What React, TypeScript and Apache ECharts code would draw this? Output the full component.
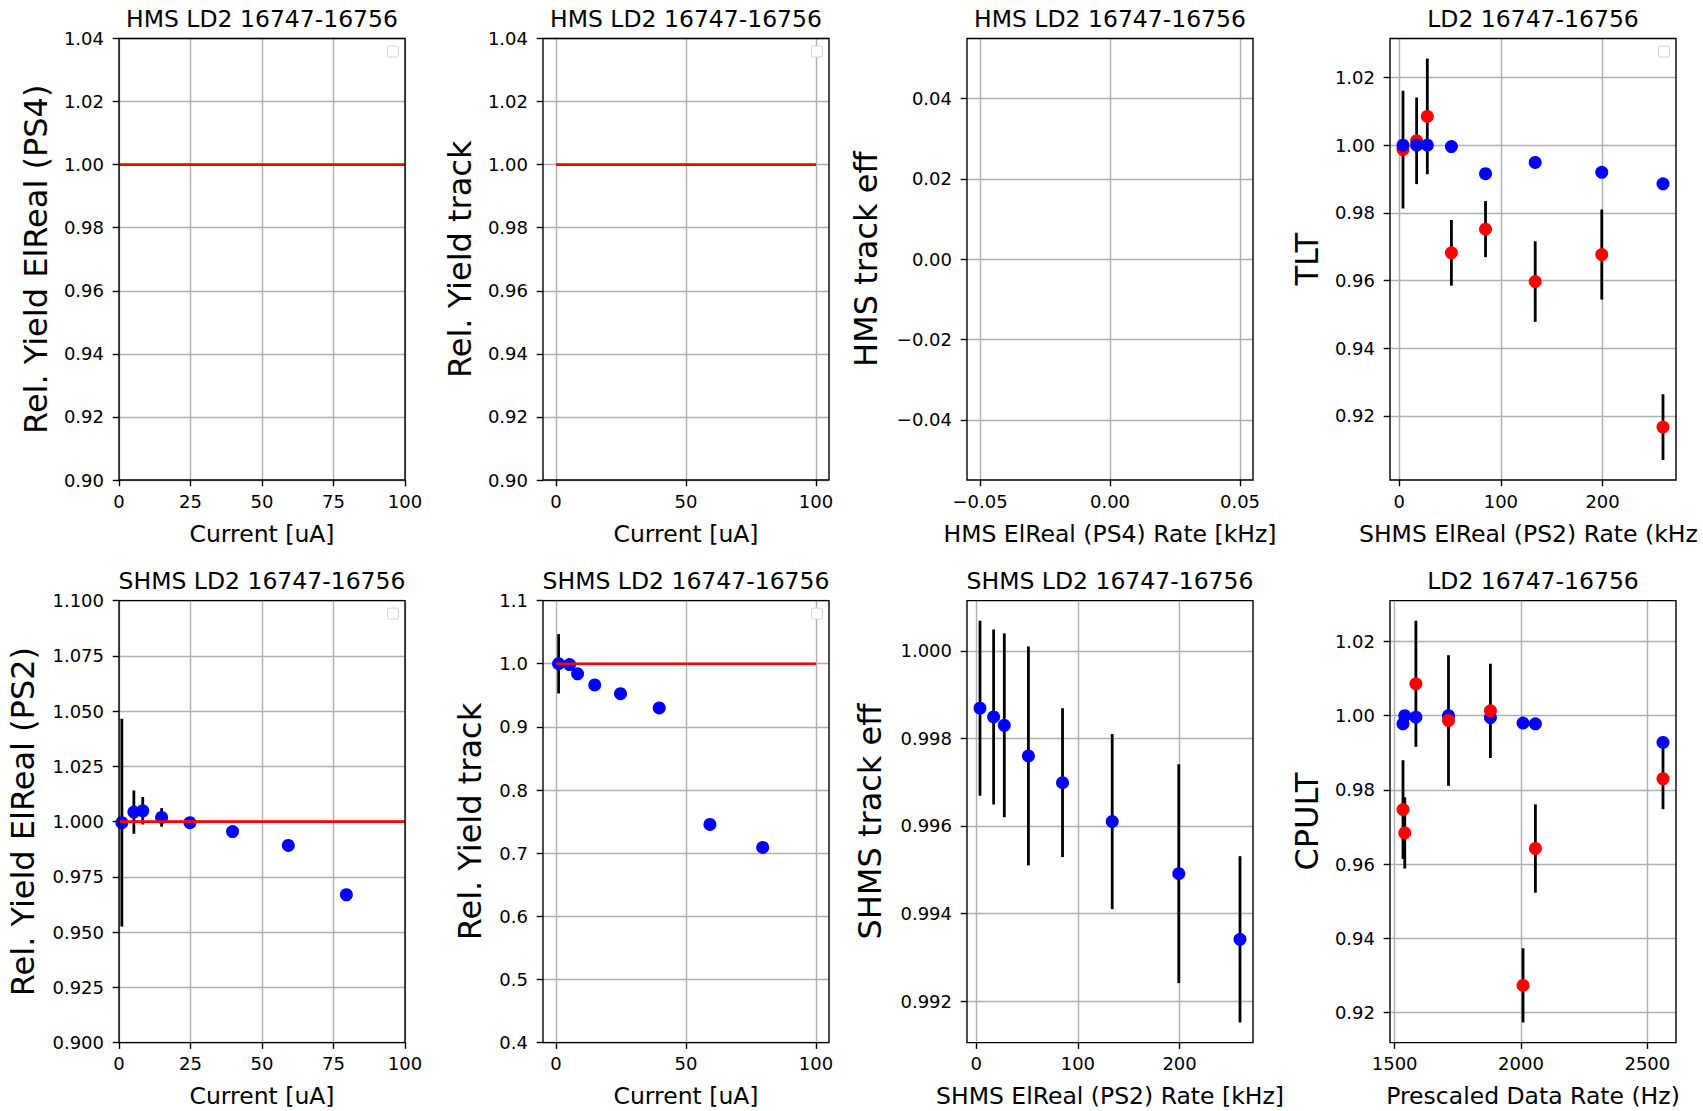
import React, { useEffect, useRef } from "react";
import * as echarts from "echarts";

// ---------------- DATA ----------------
// Beam current (uA) for SHMS yield panels
const currentUA = [1.0, 5.2, 8.3, 14.9, 24.8, 39.7, 59.2, 79.5];
const shmsRelYieldElReal = [0.9995, 1.0043, 1.0049, 1.0019, 0.9995, 0.9955, 0.9892, 0.9669];
const shmsRelYieldElRealErr = [0.047, 0.0098, 0.0062, 0.0042, 0.002, 0.0015, 0.0012, 0.001];
const shmsRelYieldTrack = [1.0, 0.9987, 0.984, 0.9665, 0.9525, 0.93, 0.7455, 0.709];
const shmsRelYieldTrackErr = [0.047, 0.0098, 0.0062, 0.0042, 0.002, 0.0015, 0.0012, 0.001];
// Reference line at 1
const refLineX = [0, 100];
const refLineY = [1, 1];

// SHMS ElReal (PS2) rate (kHz)
const shmsRateKHz = [3.75, 17.15, 27.65, 51.35, 84.9, 133.75, 199.2, 259.4];
const tltBlue = [1.0, 1.0, 1.0, 0.9996, 0.9916, 0.9949, 0.992, 0.9886];
const tltRed = [0.9987, 1.0013, 1.0085, 0.9682, 0.9752, 0.9597, 0.9677, 0.9167];
const tltRedErr = [0.0174, 0.0128, 0.0171, 0.0097, 0.0083, 0.0119, 0.0133, 0.0097];
const shmsTrackEff = [0.99869, 0.99849, 0.9983, 0.9976, 0.99699, 0.9961, 0.99491, 0.99341];
const shmsTrackEffErr = [0.002, 0.002, 0.0021, 0.0025, 0.0017, 0.002, 0.0025, 0.0019];

// Prescaled data rate (Hz)
const prescaledRateHz = [1533, 1540, 1584, 1713, 1879, 2008, 2057, 2562];
const cpultBlue = [0.9978, 1.0, 0.9996, 1.0, 0.9995, 0.998, 0.9978, 0.9928];
const cpultRed = [0.9747, 0.9684, 1.0086, 0.9987, 1.0013, 0.9273, 0.9642, 0.983];
const cpultRedErr = [0.0133, 0.0096, 0.017, 0.0176, 0.0127, 0.01, 0.0119, 0.0082];

// Tick values
const ticksCurrent25 = [0, 25, 50, 75, 100];
const ticksCurrent50 = [0, 50, 100];
const ticksYieldHMS = [0.9, 0.92, 0.94, 0.96, 0.98, 1.0, 1.02, 1.04];
const ticksEmptyX = [-0.05, 0, 0.05];
const ticksEmptyY = [-0.04, -0.02, 0, 0.02, 0.04];
const ticksRate = [0, 100, 200];
const ticksTLT = [0.92, 0.94, 0.96, 0.98, 1.0, 1.02];
const ticksYieldElRealSHMS = [0.9, 0.925, 0.95, 0.975, 1.0, 1.025, 1.05, 1.075, 1.1];
const ticksYieldTrackSHMS = [0.4, 0.5, 0.6, 0.7, 0.8, 0.9, 1.0, 1.1];
const ticksTrackEff = [0.992, 0.994, 0.996, 0.998, 1.0];
const ticksPrescaled = [1500, 2000, 2500];
const ticksCPULT = [0.92, 0.94, 0.96, 0.98, 1.0, 1.02];

// ---------------- LAYOUT / STYLE ----------------
const FONT = "'DejaVu Sans', 'Liberation Sans', sans-serif";
const COLS = [119, 543, 967, 1390];
const W = 286;
const ROWS = [
  { top: 38.5, h: 441.5, titleTop: 6.5 },
  { top: 600.6, h: 442, titleTop: 569 },
];
const BLUE = "#0000ff";
const RED = "#ff0000";

const fmt = (dec: number) => (v: number) => Number(v).toFixed(dec).replace("-", "\u2212");
const padded = (lo: number, hi: number) => {
  const r = hi - lo;
  return [lo - 0.05 * r, hi + 0.05 * r];
};
const minOf = (a: number[]) => Math.min(...a);
const maxOf = (a: number[]) => Math.max(...a);

const p3x = padded(minOf(shmsRateKHz), maxOf(shmsRateKHz));
const p3y = padded(
  Math.min(minOf(tltRed.map((v, i) => v - tltRedErr[i])), minOf(tltBlue)),
  Math.max(maxOf(tltRed.map((v, i) => v + tltRedErr[i])), maxOf(tltBlue))
);
const p6y = padded(
  minOf(shmsTrackEff.map((v, i) => v - shmsTrackEffErr[i])),
  maxOf(shmsTrackEff.map((v, i) => v + shmsTrackEffErr[i]))
);
const p7x = padded(minOf(prescaledRateHz), maxOf(prescaledRateHz));
const p7y = padded(
  Math.min(minOf(cpultRed.map((v, i) => v - cpultRedErr[i])), minOf(cpultBlue)),
  Math.max(maxOf(cpultRed.map((v, i) => v + cpultRedErr[i])), maxOf(cpultBlue))
);

type Panel = {
  col: number;
  row: number;
  title: string;
  xName: string;
  xNamePadRight: number;
  yName: string;
  x: number[];
  y: number[];
  xTicks: number[];
  yTicks: number[];
  xDec: number;
  yDec: number;
  yGap: number;
  legendBox: boolean;
};

const panels: Panel[] = [
  { col: 0, row: 0, title: "HMS LD2 16747-16756", xName: "Current [uA]", xNamePadRight: 0, yName: "Rel. Yield ElReal (PS4)", x: [0, 100], y: [0.9, 1.04], xTicks: ticksCurrent25, yTicks: ticksYieldHMS, xDec: 0, yDec: 2, yGap: 67.5, legendBox: true },
  { col: 1, row: 0, title: "HMS LD2 16747-16756", xName: "Current [uA]", xNamePadRight: 0, yName: "Rel. Yield track", x: [-5, 105], y: [0.9, 1.04], xTicks: ticksCurrent50, yTicks: ticksYieldHMS, xDec: 0, yDec: 2, yGap: 67.5, legendBox: true },
  { col: 2, row: 0, title: "HMS LD2 16747-16756", xName: "HMS ElReal (PS4) Rate [kHz]", xNamePadRight: 0, yName: "HMS track eff", x: [-0.055, 0.055], y: [-0.055, 0.055], xTicks: ticksEmptyX, yTicks: ticksEmptyY, xDec: 2, yDec: 2, yGap: 85, legendBox: false },
  // the reference figure is cropped at its right edge, so this label ends at "(kHz"
  { col: 3, row: 0, title: "LD2 16747-16756", xName: "SHMS ElReal (PS2) Rate (kHz", xNamePadRight: 9.2, yName: "TLT", x: p3x, y: p3y, xTicks: ticksRate, yTicks: ticksTLT, xDec: 0, yDec: 2, yGap: 67.5, legendBox: true },
  { col: 0, row: 1, title: "SHMS LD2 16747-16756", xName: "Current [uA]", xNamePadRight: 0, yName: "Rel. Yield ElReal (PS2)", x: [0, 100], y: [0.9, 1.1], xTicks: ticksCurrent25, yTicks: ticksYieldElRealSHMS, xDec: 0, yDec: 3, yGap: 80.5, legendBox: true },
  { col: 1, row: 1, title: "SHMS LD2 16747-16756", xName: "Current [uA]", xNamePadRight: 0, yName: "Rel. Yield track", x: [-5, 105], y: [0.4, 1.1], xTicks: ticksCurrent50, yTicks: ticksYieldTrackSHMS, xDec: 0, yDec: 1, yGap: 57.5, legendBox: true },
  { col: 2, row: 1, title: "SHMS LD2 16747-16756", xName: "SHMS ElReal (PS2) Rate [kHz]", xNamePadRight: 0, yName: "SHMS track eff", x: p3x, y: p6y, xTicks: ticksRate, yTicks: ticksTrackEff, xDec: 0, yDec: 3, yGap: 81.5, legendBox: false },
  { col: 3, row: 1, title: "LD2 16747-16756", xName: "Prescaled Data Rate (Hz)", xNamePadRight: 0, yName: "CPULT", x: p7x, y: p7y, xTicks: ticksPrescaled, yTicks: ticksCPULT, xDec: 0, yDec: 2, yGap: 67.5, legendBox: false },
];

const refLine = (gi: number) => ({
  type: "line",
  xAxisIndex: gi,
  yAxisIndex: gi,
  data: refLineX.map((x, i) => [x, refLineY[i]]),
  symbol: "none",
  silent: true,
  lineStyle: { color: RED, width: 2.7 },
});

const scatter = (gi: number, xs: number[], ys: number[], color: string) => ({
  type: "scatter",
  xAxisIndex: gi,
  yAxisIndex: gi,
  data: xs.map((x, i) => [x, ys[i]]),
  symbol: "circle",
  symbolSize: 13,
  silent: true,
  itemStyle: { color, opacity: 1, borderWidth: 0 },
});

const errorBars = (gi: number, xs: number[], ys: number[], errs: number[]) => ({
  type: "custom",
  xAxisIndex: gi,
  yAxisIndex: gi,
  silent: true,
  data: xs.map((x, i) => [x, ys[i] - errs[i], ys[i] + errs[i]]),
  encode: { x: 0, y: [1, 2] },
  renderItem: (_params: any, api: any) => {
    const lo = api.coord([api.value(0), api.value(1)]);
    const hi = api.coord([api.value(0), api.value(2)]);
    return {
      type: "line",
      shape: { x1: lo[0], y1: lo[1], x2: hi[0], y2: hi[1] },
      style: { stroke: "#000", lineWidth: 2.8 },
    };
  },
});

function buildOption() {
  const grid = panels.map((p) => ({
    left: COLS[p.col],
    top: ROWS[p.row].top,
    width: W,
    height: ROWS[p.row].h,
    show: false,
    containLabel: false,
    outerBoundsMode: "none",
  }));

  const tickStyle = { show: true, inside: false, length: 6.3, lineStyle: { color: "#000", width: 1.4 } };
  const splitStyle = { show: true, lineStyle: { color: "#b0b0b0", width: 1.4 } };

  const xAxis = panels.map((p, i) => ({
    type: "value",
    gridIndex: i,
    min: p.x[0],
    max: p.x[1],
    name: p.xName,
    nameLocation: "middle",
    nameGap: 41.5,
    nameMoveOverlap: false,
    nameTextStyle: {
      fontSize: 23.5,
      color: "#000",
      fontFamily: FONT,
      padding: [0, p.xNamePadRight, 0, 0],
    },
    axisLine: { show: false, onZero: false },
    axisTick: { ...tickStyle, customValues: p.xTicks },
    axisLabel: {
      customValues: p.xTicks,
      formatter: fmt(p.xDec),
      fontSize: 18,
      color: "#000",
      fontFamily: FONT,
      margin: 12,
      hideOverlap: false,
    },
    splitLine: splitStyle,
  }));

  const yAxis = panels.map((p, i) => ({
    type: "value",
    gridIndex: i,
    min: p.y[0],
    max: p.y[1],
    name: p.yName,
    nameLocation: "middle",
    nameGap: p.yGap,
    nameMoveOverlap: false,
    nameTextStyle: { fontSize: 32, color: "#000", fontFamily: FONT },
    axisLine: { show: false, onZero: false },
    axisTick: { ...tickStyle, customValues: p.yTicks },
    axisLabel: {
      customValues: p.yTicks,
      formatter: fmt(p.yDec),
      fontSize: 18,
      color: "#000",
      fontFamily: FONT,
      margin: 15,
      hideOverlap: false,
    },
    splitLine: splitStyle,
  }));

  const title = panels.map((p) => ({
    text: p.title,
    left: COLS[p.col] + W / 2,
    top: ROWS[p.row].titleTop,
    textAlign: "center",
    textVerticalAlign: "top",
    padding: 0,
    textStyle: { fontSize: 23.5, fontWeight: "normal", color: "#000", fontFamily: FONT },
  }));

  const series: any[] = [
    refLine(0),
    refLine(1),
    errorBars(3, shmsRateKHz, tltRed, tltRedErr),
    scatter(3, shmsRateKHz, tltRed, RED),
    scatter(3, shmsRateKHz, tltBlue, BLUE),
    refLine(4),
    errorBars(4, currentUA, shmsRelYieldElReal, shmsRelYieldElRealErr),
    scatter(4, currentUA, shmsRelYieldElReal, BLUE),
    refLine(5),
    errorBars(5, currentUA, shmsRelYieldTrack, shmsRelYieldTrackErr),
    scatter(5, currentUA, shmsRelYieldTrack, BLUE),
    errorBars(6, shmsRateKHz, shmsTrackEff, shmsTrackEffErr),
    scatter(6, shmsRateKHz, shmsTrackEff, BLUE),
    errorBars(7, prescaledRateHz, cpultRed, cpultRedErr),
    scatter(7, prescaledRateHz, cpultBlue, BLUE),
    scatter(7, prescaledRateHz, cpultRed, RED),
  ];

  const graphic: any[] = [];
  panels.forEach((p) => {
    const left = COLS[p.col];
    const top = ROWS[p.row].top;
    const h = ROWS[p.row].h;
    graphic.push({
      type: "rect",
      silent: true,
      z: 100,
      shape: { x: left, y: top, width: W, height: h },
      style: { fill: "none", stroke: "#000", lineWidth: 1.4 },
    });
    if (p.legendBox) {
      graphic.push({
        type: "rect",
        silent: true,
        z: 99,
        shape: { x: left + W - 6.5 - 11, y: top + 7.5, width: 11, height: 11, r: 2 },
        style: { fill: "#ffffff", stroke: "#d4d4d4", lineWidth: 1 },
      });
    }
  });

  return {
    animation: false,
    backgroundColor: "#ffffff",
    textStyle: { fontFamily: FONT },
    title,
    grid,
    xAxis,
    yAxis,
    series,
    graphic,
  };
}

export default function App() {
  const ref = useRef<HTMLDivElement>(null);
  useEffect(() => {
    if (!ref.current) return;
    const chart = echarts.init(ref.current, null, { renderer: "svg", width: 1703, height: 1111 });
    chart.setOption(buildOption() as any);
    return () => chart.dispose();
  }, []);
  return (
    <div
      ref={ref}
      style={{ position: "fixed", left: 0, top: 0, width: 1703, height: 1111, background: "#fff", overflow: "hidden" }}
    />
  );
}
